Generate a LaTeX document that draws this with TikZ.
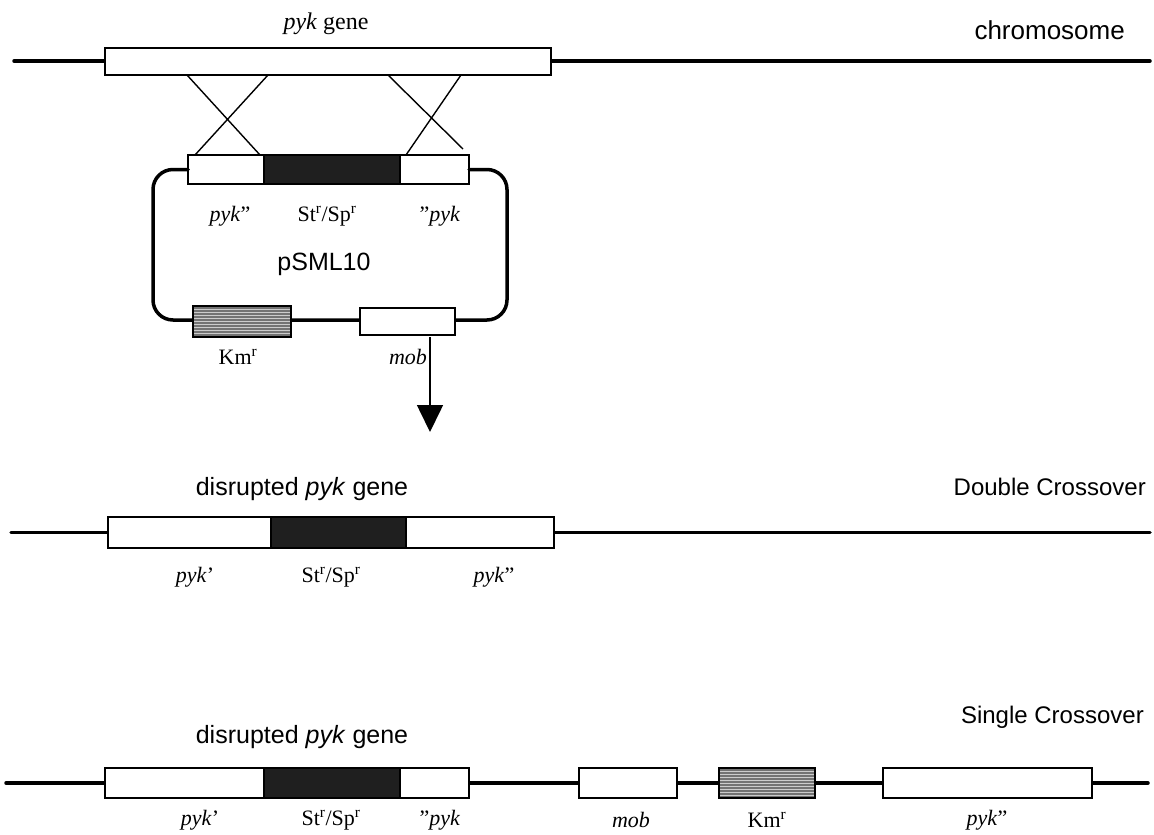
\documentclass[tikz,border=0pt]{standalone}
\usepackage{fontspec}
\setmainfont{Liberation Serif}
\setsansfont{Liberation Sans}
\usetikzlibrary{arrows.meta,patterns}

\begin{document}
\begin{tikzpicture}[x=1pt,y=-1pt,
dna/.style={line width=3.5pt, line cap=round},
blank/.style={draw, line width=1.2pt, fill=white, inner sep=0pt, outer sep=0pt},
spec/.style={blank, fill=black!88},
kan/.style={blank, preaction={fill=black!55}, pattern=horizontal lines, pattern color=white!80!black},
lbl/.style={font=\fontsize{22}{26}\selectfont, inner sep=1pt},
head/.style={font=\sffamily\fontsize{24}{29}\selectfont, anchor=east, inner sep=0pt},
big/.style={font=\sffamily\fontsize{25}{30}\selectfont},
cross/.style={line width=1.4pt}
]
\useasboundingbox (0,0) rectangle (1154,835);

\def\h{29}

%%% chromosome
\draw[dna] (14,61) -- (1150,61);
\node[blank, minimum width=446pt, minimum height=27pt] (pyk) at (328,61.5) {};
\node[lbl, font=\fontsize{24}{28}\selectfont] (pyklbl) at (326,24) {\textit{pyk} gene};
\node[head, font=\sffamily\fontsize{26}{31}\selectfont] (chrom) at (1125,30) {chromosome};

%%% pSML10
\foreach \a/\b/\s/\n in {188/264/blank/pa, 264/400/spec/pb, 400/469/blank/pc}{
	\node[\s, minimum width={\b pt-\a pt}, minimum height=\h pt] (\n) at ({(\a+\b)/2},169.5) {};
}
\draw[dna, rounded corners=20pt] (pc.east) -- (507,169.5) -- (507,320) -- (153,320) -- (153,169.5) -- (pa.west);
\node[kan, minimum width=98pt, minimum height=31pt] (km) at (242,321.5) {};
\node[blank, minimum width=95pt, minimum height=27pt] (mob) at (407.5,321.5) {};

% crossover lines
\path (187,75) coordinate(l1) (268,75) coordinate(l2)
	(195,155) coordinate(l3) (260,155) coordinate(l4)
	(388,75) coordinate(r1) (461,75) coordinate(r2)
	(406,155) coordinate(r3) (463,149) coordinate(r4);
\draw[cross] (l1) -- (l4) (l2) -- (l3) (r1) -- (r4) (r2) -- (r3);

\foreach \x/\y/\txt in {
	230/216/{\textit{pyk}''},
	327/216/{St\textsuperscript{r}/Sp\textsuperscript{r}},
	440/216/{''\textit{pyk}},
	238/357/{Km\textsuperscript{r}},
	408/357/{\textit{mob}}
	}{
	\node[lbl] at (\x,\y) {\txt};
}
\node[big] (plasmid) at (324,264) {pSML10};

\coordinate (from) at (430,337);
\coordinate (to) at (430,432);
\draw[line width=1.6pt, -{Triangle[length=27pt,width=26pt]}] (from) -- (to);

%%% Double Crossover
\node[head] (dbl) at (1146,487) {Double Crossover};
\node[big] (dlbl) at (302,489) {disrupted \textit{pyk} gene};
\draw[dna] (11,532.5) -- (1150,532.5);
\foreach \a/\b/\s/\n in {108/271/blank/da, 271/406/spec/db, 406/554/blank/dc}{
	\node[\s, minimum width={\b pt-\a pt}, minimum height=31pt] (\n) at ({(\a+\b)/2},532.5) {};
}
\foreach \x/\txt in {
	195/{\textit{pyk}'},
	331/{St\textsuperscript{r}/Sp\textsuperscript{r}},
	494/{\textit{pyk}''}
	}{
	\node[lbl] at (\x,577) {\txt};
}

%%% Single Crossover
\node[head] (sgl) at (1144,717) {Single Crossover};
\node[big] (slbl) at (302,737) {disrupted \textit{pyk} gene};
\draw[dna] (6,783) -- (1148,783);
\foreach \a/\b/\s/\n in {105/264/blank/sa, 264/400/spec/sb, 400/469/blank/sc,
	579/677/blank/sd, 719/815/kan/se, 883/1092/blank/sf}{
	\node[\s, minimum width={\b pt-\a pt}, minimum height=30pt] (\n) at ({(\a+\b)/2},783) {};
}
\foreach \x/\txt in {
	200/{\textit{pyk}'},
	331/{St\textsuperscript{r}/Sp\textsuperscript{r}},
	440/{''\textit{pyk}},
	631/{\textit{mob}},
	767/{Km\textsuperscript{r}},
	987/{\textit{pyk}''}
	}{
	\node[lbl] at (\x,820) {\txt};
}

\end{tikzpicture}
\end{document}
